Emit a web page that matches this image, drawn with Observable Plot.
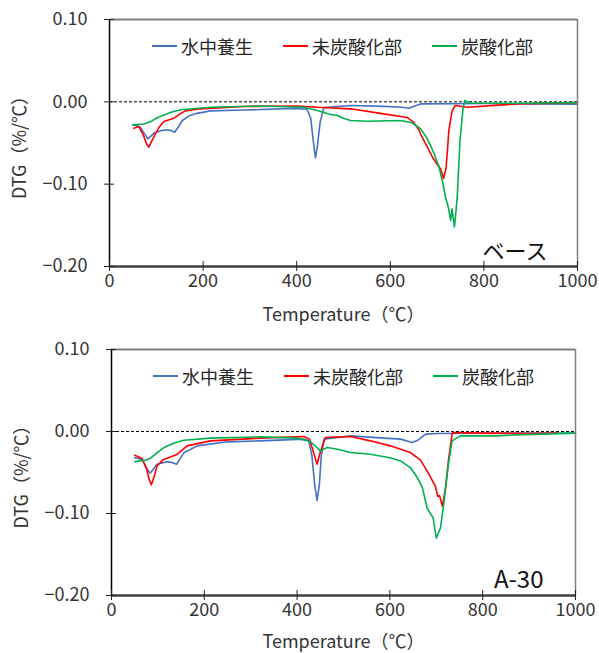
<!DOCTYPE html>
<html>
<head>
<meta charset="utf-8">
<script src="https://cdn.jsdelivr.net/npm/d3@7"></script>
<script src="https://cdn.jsdelivr.net/npm/@observablehq/plot@0.6"></script>
<style>
  body { margin: 0; background: #fff; font-family: 'Noto Sans CJK JP', sans-serif; }
  .panel { position: relative; width: 599px; }
  .legend { position: absolute; left: 152px; top: 33px; display: flex; align-items: center; gap: 30px; font-size: 18px; color: #262626; }
  .legend .item { display: flex; align-items: center; }
  .legend .swatch { width: 25px; height: 0; border-top: 2px solid; margin-right: 4px; }
</style>
</head>
<body>
<div id="root"></div>
<script>
// ---- data ----
const seriesNames = ["水中養生", "未炭酸化部", "炭酸化部"];
const seriesColors = ["#4472C4", "#FF0000", "#00B050"];
const xTicks = [0, 200, 400, 600, 800, 1000];
const yTicks = [-0.2, -0.1, 0, 0.1];
const panelLabels = ["ベース", "A-30"];
const xLabel = "Temperature（℃）";
const yLabel = "DTG（%/℃）";

// ベース
const baseWater = [[50,-0.028],[58,-0.029],[66,-0.031],[74,-0.038],[82,-0.045],[88,-0.042],[95,-0.038],[110,-0.035],[123,-0.034],[132,-0.035],[139,-0.037],[147,-0.031],[155,-0.023],[170,-0.017],[187,-0.014],[216,-0.011],[287,-0.010],[394,-0.008],[422,-0.009],[430,-0.02],[436,-0.05],[440,-0.068],[444,-0.055],[450,-0.025],[458,-0.007],[515,-0.0045],[586,-0.0055],[625,-0.0065],[640,-0.0078],[652,-0.005],[665,-0.0025],[800,-0.002],[900,-0.0025],[1000,-0.003]];
const baseUncarb = [[52,-0.032],[63,-0.030],[72,-0.040],[80,-0.052],[84,-0.055],[90,-0.048],[98,-0.039],[106,-0.031],[116,-0.024],[126,-0.022],[137,-0.020],[150,-0.015],[162,-0.011],[194,-0.0085],[287,-0.0057],[401,-0.005],[444,-0.0065],[515,-0.0085],[586,-0.0146],[636,-0.019],[650,-0.025],[660,-0.033],[668,-0.043],[680,-0.056],[690,-0.067],[700,-0.076],[707,-0.081],[714,-0.093],[719,-0.081],[722,-0.060],[725,-0.035],[732,-0.011],[739,-0.0045],[764,-0.0065],[871,-0.0025],[1000,-0.001]];
const baseCarb = [[51,-0.028],[73,-0.027],[88,-0.024],[100,-0.020],[116,-0.016],[135,-0.012],[152,-0.0097],[216,-0.0065],[323,-0.005],[415,-0.0065],[444,-0.0106],[470,-0.015],[487,-0.0167],[500,-0.020],[515,-0.0227],[551,-0.0235],[622,-0.0227],[647,-0.0255],[665,-0.033],[676,-0.042],[686,-0.053],[695,-0.065],[704,-0.079],[712,-0.098],[718,-0.116],[724,-0.128],[729,-0.144],[732,-0.130],[737,-0.152],[740,-0.135],[743,-0.116],[746,-0.08],[749,-0.047],[755,-0.01],[759,0.0016],[771,-0.0017],[871,-0.0017],[1000,-0.001]];

// A-30
const a30Water = [[50,-0.032],[66,-0.034],[75,-0.044],[83,-0.051],[90,-0.046],[98,-0.040],[120,-0.037],[132,-0.038],[140,-0.040],[148,-0.033],[156,-0.026],[185,-0.0175],[249,-0.0126],[321,-0.0114],[414,-0.0093],[425,-0.011],[432,-0.03],[438,-0.065],[443,-0.084],[448,-0.065],[452,-0.03],[458,-0.0093],[515,-0.0053],[587,-0.0081],[623,-0.0093],[648,-0.0134],[659,-0.011],[677,-0.0032],[702,-0.0024],[850,-0.002],[1000,-0.002]];
const a30Uncarb = [[50,-0.029],[66,-0.033],[75,-0.045],[82,-0.060],[86,-0.065],[92,-0.055],[98,-0.042],[112,-0.034],[127,-0.031],[141,-0.028],[163,-0.0175],[213,-0.0114],[321,-0.0081],[414,-0.0061],[427,-0.0093],[435,-0.025],[443,-0.040],[450,-0.025],[461,-0.0073],[515,-0.0061],[558,-0.0114],[601,-0.0175],[644,-0.0257],[666,-0.035],[684,-0.052],[698,-0.0665],[703,-0.079],[707,-0.078],[713,-0.091],[720,-0.0685],[726,-0.036],[734,-0.0032],[736,-0.0012],[802,-0.002],[900,-0.0024],[960,-0.002]];
const a30Carb = [[50,-0.0367],[73,-0.035],[84,-0.0326],[98,-0.026],[113,-0.0196],[135,-0.014],[156,-0.0106],[213,-0.0081],[321,-0.0065],[400,-0.0081],[429,-0.0126],[440,-0.018],[450,-0.0236],[465,-0.0196],[490,-0.022],[515,-0.0257],[558,-0.0277],[600,-0.032],[623,-0.0359],[644,-0.044],[659,-0.056],[670,-0.0685],[680,-0.093],[687,-0.100],[693,-0.105],[700,-0.130],[709,-0.1175],[716,-0.089],[726,-0.040],[734,-0.0114],[752,-0.0053],[831,-0.0053],[874,-0.0041],[1000,-0.002]];

// ---- drawing ----
const FONT = "'Noto Sans CJK JP', sans-serif";

function makePanel(seriesList, annotation, m) {
  const data = seriesList.flatMap((pts, i) => pts.map(([t, v]) => ({t, v, name: seriesNames[i]})));
  const plotW = 599 - m.left - m.right;
  const plotH = m.height - m.top - m.bottom;
  const plot = Plot.plot({
    width: 599,
    height: m.height,
    marginTop: m.top, marginBottom: m.bottom, marginLeft: m.left, marginRight: m.right,
    style: {fontFamily: FONT, fontSize: "18px", color: "#333", background: "#fff"},
    x: {domain: [0, 1000]},
    y: {domain: [-0.2, 0.1]},
    color: {domain: seriesNames, range: seriesColors},
    marks: [
      Plot.ruleY([0], {stroke: "#000", strokeWidth: 1, strokeDasharray: "3,2"}),
      Plot.line(data, {x: "t", y: "v", z: "name", stroke: "name", strokeWidth: 1.6}),
      Plot.ruleY([0.1], {stroke: "#7f7f7f", strokeWidth: 2}),
      Plot.ruleX([1000], {stroke: "#7f7f7f", strokeWidth: 1.5}),
      Plot.ruleX([0], {stroke: "#000", strokeWidth: 1.5}),
      Plot.ruleY([-0.2], {stroke: "#404040", strokeWidth: 2.5}),
      Plot.axisX(xTicks, {tickSize: 5, tickPadding: 3, stroke: "#222", fill: "#333", fontSize: 18,
        tickFormat: d => String(d),
        label: xLabel, labelAnchor: "center", labelOffset: m.xLabelOffset, labelArrow: "none"}),
      Plot.tickX(xTicks, {x: d => d, insetTop: plotH - 5, stroke: "#222"}),
      Plot.axisY(yTicks, {tickSize: 5, tickPadding: 17, stroke: "#222", fill: "#333", fontSize: 18,
        tickFormat: d3.format(".2f"),
        label: yLabel, labelAnchor: "center", labelOffset: 96, labelArrow: "none"}),
      Plot.tickY(yTicks, {y: d => d, insetRight: plotW - 5, stroke: "#222"}),
      Plot.text([annotation], {text: d => d, frameAnchor: "bottom-right", textAnchor: "end", lineAnchor: "bottom",
        dx: m.annDx, dy: -8, fontSize: m.annSize, fill: "#111"})
    ]
  });
  const panel = document.createElement("div");
  panel.className = "panel";
  panel.appendChild(plot);
  const legend = document.createElement("div");
  legend.className = "legend";
  legend.style.left = m.legendLeft + "px";
  seriesNames.forEach((name, i) => {
    const item = document.createElement("div");
    item.className = "item";
    const sw = document.createElement("span");
    sw.className = "swatch";
    sw.style.borderTopColor = seriesColors[i];
    const tx = document.createElement("span");
    tx.textContent = name;
    item.appendChild(sw); item.appendChild(tx);
    legend.appendChild(item);
  });
  panel.appendChild(legend);
  return panel;
}

const root = document.getElementById("root");
root.appendChild(makePanel([baseWater, baseUncarb, baseCarb], panelLabels[0],
  {height: 330, top: 19, bottom: 64, left: 109, right: 22, annDx: -30, annSize: 22, legendLeft: 152, xLabelOffset: 54}));
root.appendChild(makePanel([a30Water, a30Uncarb, a30Carb], panelLabels[1],
  {height: 323, top: 19, bottom: 58, left: 111, right: 24, annDx: -32, annSize: 24, legendLeft: 153, xLabelOffset: 52}));
</script>
</body>
</html>
